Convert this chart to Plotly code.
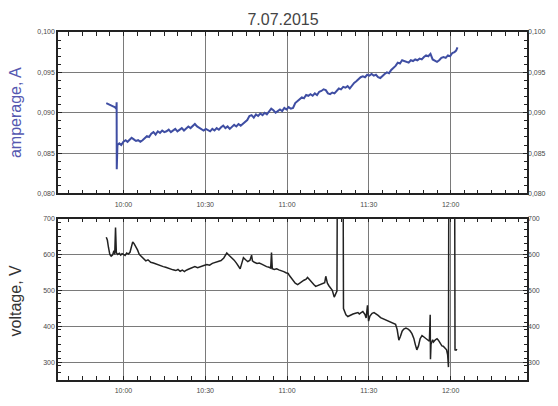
import pandas as pd
import plotly.graph_objects as go

# ---------------- data ----------------
title_text = "7.07.2015"
base_time = "2015-07-07 10:00:00"

# amperage: minutes relative to 10:00, value in A
amp_min = [-6.3, -5.8, -5.2, -4.5, -3.8, -3.2, -2.8, -2.6, -2.5, -2.45, -2.35, -2.2, -1.5, -0.8, 0.0, 0.8,
           1.5, 2.2, 3.0, 3.8, 4.6, 5.4, 6.2, 7.0, 7.8, 8.6, 9.4, 10.2, 11.0, 11.8, 12.6, 13.4,
           14.2, 15.0, 15.8, 16.6, 17.4, 18.2, 19.0, 19.8, 20.6, 21.4, 22.2, 23.0, 23.8, 24.6, 25.4, 26.2,
           27.0, 27.8, 28.6, 29.4, 30.2, 31.0, 31.8, 32.6, 33.4, 34.2, 35.0, 35.8, 36.6, 37.4, 38.2, 39.0,
           39.8, 40.6, 41.4, 42.2, 43.0, 43.8, 44.6, 45.4, 46.2, 47.0, 47.8, 48.6, 49.4, 50.2, 51.0, 51.8,
           52.6, 53.4, 54.2, 55.0, 55.8, 56.6, 57.4, 58.2, 59.0, 59.8, 60.6, 61.4, 62.2, 63.0, 63.8, 64.6,
           65.4, 66.2, 67.0, 67.8, 68.6, 69.4, 70.2, 71.0, 71.8, 72.6, 73.4, 74.2, 75.0, 75.8, 76.6, 77.4,
           78.2, 79.0, 79.8, 80.6, 81.4, 82.2, 83.0, 83.8, 84.6, 85.4, 86.2, 87.0, 87.8, 88.6, 89.4, 90.2,
           91.0, 91.8, 92.6, 93.4, 94.2, 95.0, 95.8, 96.6, 97.4, 98.2, 99.0, 99.8, 100.6, 101.4, 102.2, 103.0,
           103.8, 104.6, 105.4, 106.2, 107.0, 107.8, 108.6, 109.4, 110.2, 111.0, 111.8, 112.6, 113.4, 114.2, 115.0, 115.8,
           116.6, 117.4, 118.2, 119.0, 119.8, 120.6, 121.4, 122.0, 122.5]
amp_val = [0.0912, 0.0911, 0.0910, 0.0909, 0.0908, 0.0907, 0.0906, 0.0905, 0.0913, 0.0830, 0.0857, 0.0860, 0.0862, 0.0860, 0.0864, 0.0866,
           0.0864, 0.0867, 0.0869, 0.0867, 0.0865, 0.0866, 0.0864, 0.0866, 0.0869, 0.0871, 0.0870, 0.0874, 0.0876, 0.0873, 0.0877, 0.0875,
           0.0878, 0.0876, 0.0877, 0.0879, 0.0876, 0.0878, 0.0880, 0.0877, 0.0879, 0.0881, 0.0878, 0.0881, 0.0883, 0.0881, 0.0884, 0.0886,
           0.0883, 0.0881, 0.0880, 0.0878, 0.0880, 0.0878, 0.0877, 0.0880, 0.0878, 0.0881, 0.0879, 0.0882, 0.0884, 0.0881, 0.0883, 0.0880,
           0.0883, 0.0885, 0.0883, 0.0886, 0.0884, 0.0886, 0.0888, 0.0891, 0.0896, 0.0897, 0.0894, 0.0898, 0.0896, 0.0899, 0.0897, 0.0900,
           0.0898, 0.0902, 0.0905, 0.0903, 0.0900, 0.0902, 0.0904, 0.0902, 0.0906, 0.0904, 0.0907, 0.0905, 0.0906, 0.0912, 0.0914, 0.0917,
           0.0919, 0.0918, 0.0922, 0.0921, 0.0923, 0.0921, 0.0924, 0.0922, 0.0926, 0.0927, 0.0929, 0.0928, 0.0924, 0.0923, 0.0925, 0.0924,
           0.0927, 0.0930, 0.0929, 0.0932, 0.0931, 0.0933, 0.0930, 0.0934, 0.0937, 0.0939, 0.0942, 0.0944, 0.0945, 0.0944, 0.0947, 0.0946,
           0.0948, 0.0946, 0.0947, 0.0944, 0.0943, 0.0946, 0.0948, 0.0950, 0.0949, 0.0953, 0.0955, 0.0958, 0.0962, 0.0961, 0.0965, 0.0964,
           0.0963, 0.0962, 0.0965, 0.0964, 0.0966, 0.0965, 0.0967, 0.0966, 0.0969, 0.0971, 0.0970, 0.0973, 0.0966, 0.0964, 0.0963, 0.0965,
           0.0968, 0.0969, 0.0968, 0.0971, 0.0970, 0.0974, 0.0975, 0.0977, 0.0981]

# voltage: minutes relative to 10:00, value in V (values above 700 are off-scale spikes)
volt_min = [-6.3, -5.9, -5.5, -5.0, -4.5, -4.0, -3.5, -3.2, -2.9, -2.6, -2.1, -1.5, -1.0, -0.5, 0.0, 0.6,
            1.2, 1.8, 2.4, 3.0, 3.4, 3.9, 4.6, 5.2, 5.8, 6.5, 7.2, 8.2, 9.0, 10.0, 11.0, 11.9,
            12.8, 13.7, 14.6, 15.5, 16.4, 17.3, 18.2, 19.2, 20.0, 20.8, 21.6, 22.4, 22.8, 23.6, 24.4, 25.2,
            26.2, 27.2, 28.4, 29.5, 30.6, 31.6, 32.6, 33.7, 34.8, 35.8, 36.8, 37.9, 38.8, 39.7, 40.6, 41.5,
            42.3, 42.8, 43.4, 44.0, 44.8, 45.6, 46.4, 47.0, 47.3, 48.0, 49.0, 49.8, 50.7, 51.6, 52.5, 53.4,
            54.0, 54.3, 54.6, 55.3, 56.2, 57.0, 58.0, 58.8, 59.6, 60.4, 60.8, 61.6, 62.4, 63.0, 63.9, 64.6,
            65.4, 66.2, 67.0, 67.5, 68.2, 69.0, 69.8, 70.5, 71.4, 72.2, 73.0, 73.8, 74.2, 74.8, 75.4, 76.0,
            76.6, 77.3, 77.8, 78.3, 78.4, 80.6, 80.7, 81.2, 81.6, 82.3, 83.0, 83.4, 84.2, 85.1, 86.0, 86.5,
            87.0, 87.8, 88.6, 89.0, 89.5, 89.9, 90.4, 91.2, 91.9, 92.6, 93.4, 94.3, 95.2, 96.0, 96.6, 97.3,
            98.2, 99.0, 99.8, 100.4, 101.0, 101.6, 102.2, 102.8, 103.6, 104.4, 105.1, 105.8, 106.5, 107.0, 107.6, 108.2,
            108.8, 109.5, 110.2, 111.0, 111.6, 112.2, 112.5, 112.6, 112.8, 113.4, 113.7, 114.4, 115.0, 115.5, 116.2, 116.8,
            117.3, 118.0, 118.5, 118.9, 119.2, 119.3, 121.5, 121.6, 122.0, 122.3]
volt_val = [648, 640, 620, 600, 595, 598, 610, 600, 675, 605, 600, 603, 598, 602, 600, 597,
            604, 601, 606, 625, 635, 630, 622, 612, 600, 594, 588, 582, 585, 578, 576, 573,
            571, 568, 566, 564, 561, 559, 557, 555, 558, 553, 556, 552, 555, 558, 561, 564,
            566, 563, 567, 569, 572, 570, 575, 578, 580, 583, 590, 604, 597, 591, 584, 575,
            565, 560, 575, 591, 585, 580, 584, 598, 582, 578, 575, 576, 573, 569, 566, 564,
            562, 605, 560, 558, 560, 557, 555, 552, 549, 547, 542, 535, 526, 520, 516, 520,
            524, 528, 531, 536, 530, 522, 516, 511, 514, 517, 519, 521, 539, 520, 512, 507,
            500, 481, 490, 498, 720, 720, 449, 440, 432, 427, 430, 432, 434, 436, 438, 434,
            436, 441, 432, 423, 458, 414, 428, 436, 438, 433, 430, 424, 421, 419, 415, 414,
            411, 408, 405, 390, 361, 372, 386, 392, 395, 392, 387, 379, 366, 350, 334, 345,
            365, 374, 370, 367, 362, 358, 432, 308, 350, 362, 356, 362, 365, 361, 350, 345,
            344, 339, 334, 320, 286, 720, 720, 334, 333, 336]

x_range_min = [-24, 148]
x_tick_step_min = 30
x_minor_step_min = 5
amp_range = [0.080, 0.100]
amp_ticks = [0.080, 0.085, 0.090, 0.095, 0.100]
volt_range = [250, 700]
volt_ticks = [300, 400, 500, 600, 700]
amp_title = "amperage, A"
volt_title = "voltage, V"

# ---------------- figure ----------------
t0 = pd.Timestamp(base_time)
to_time = lambda mins: [t0 + pd.Timedelta(minutes=m) for m in mins]

amp_color = "#3f4ea3"
volt_color = "#222222"
grid_color = "#7a7a7a"
tick_font = dict(family="Liberation Sans, Arial, sans-serif", size=7, color="#4a4a4a")

fig = go.Figure()
fig.add_trace(go.Scatter(x=to_time(amp_min), y=amp_val, mode="lines",
                         line=dict(color=amp_color, width=2.0), xaxis="x", yaxis="y",
                         showlegend=False, cliponaxis=True))
fig.add_trace(go.Scatter(x=to_time(volt_min), y=volt_val, mode="lines",
                         line=dict(color=volt_color, width=1.5), xaxis="x2", yaxis="y2",
                         showlegend=False, cliponaxis=True))

xr = [t0 + pd.Timedelta(minutes=m) for m in x_range_min]

def xaxis_cfg(anchor):
    return dict(type="date", range=xr, anchor=anchor, domain=[0, 1],
                tick0=base_time, dtick=x_tick_step_min * 60000, tickformat="%H:%M",
                ticks="inside", ticklen=4, tickcolor="#222", tickwidth=1,
                minor=dict(dtick=x_minor_step_min * 60000, ticks="inside", ticklen=3,
                           tickcolor="#222", showgrid=False),
                showgrid=True, gridcolor=grid_color, gridwidth=1.3,
                showline=True, linecolor="#222", linewidth=1.5, mirror="allticks",
                tickfont=tick_font, ticklabelstandoff=3, zeroline=False, fixedrange=True)

def yaxis_cfg(domain, anchor, rng, ticks, fmt, minor_step):
    return dict(domain=domain, anchor=anchor, range=rng, tickmode="array", tickvals=ticks,
                tickformat=fmt, ticks="inside", ticklen=4, tickcolor="#222", tickwidth=1,
                minor=dict(dtick=minor_step, tick0=rng[0], ticks="inside", ticklen=3,
                           tickcolor="#222", showgrid=False),
                showgrid=True, gridcolor=grid_color, gridwidth=1.3,
                showline=True, linecolor="#222", linewidth=1.5, mirror="allticks",
                tickfont=tick_font, zeroline=False, fixedrange=True)

top_dom = [0.536, 1.0]
bot_dom = [0.0, 0.464]

fig.update_layout(
    width=558, height=406,
    margin=dict(l=58, r=28, t=32, b=12),
    paper_bgcolor="white", plot_bgcolor="white",
    separators=", ",
    font=dict(family="Liberation Sans, Arial, sans-serif"),
    xaxis=xaxis_cfg("y"),
    xaxis2=xaxis_cfg("y2"),
    yaxis=yaxis_cfg(top_dom, "x", amp_range, amp_ticks, ".3f", 0.001),
    yaxis2=yaxis_cfg(bot_dom, "x2", volt_range, volt_ticks, "d", 20),
    yaxis3=dict(overlaying="y", side="right", anchor="x", range=amp_range, tickmode="array",
                tickvals=amp_ticks, tickformat=".3f", showgrid=False, ticks="",
                showline=False, zeroline=False, tickfont=tick_font, fixedrange=True),
    yaxis4=dict(overlaying="y2", side="right", anchor="x2", range=volt_range, tickmode="array",
                tickvals=volt_ticks, tickformat="d", showgrid=False, ticks="",
                showline=False, zeroline=False, tickfont=tick_font, fixedrange=True),
    title=dict(text=title_text, x=283 / 558, xanchor="center", y=1 - 19 / 406, yanchor="middle",
               font=dict(size=16, color="#444444")),
    annotations=[
        dict(text=amp_title, textangle=-90, xref="paper", yref="paper",
             x=(15 - 58) / 472, y=1 - (116 - 32) / 362, xanchor="center", yanchor="middle",
             showarrow=False, font=dict(size=16, color="#5558b0")),
        dict(text=volt_title, textangle=-90, xref="paper", yref="paper",
             x=(15 - 58) / 472, y=1 - (312 - 32) / 362, xanchor="center", yanchor="middle",
             showarrow=False, font=dict(size=16, color="#333333")),
    ],
)
# dummy traces so the right-hand label axes render
fig.add_trace(go.Scatter(x=[xr[0]], y=[None], xaxis="x", yaxis="y3", showlegend=False, hoverinfo="skip"))
fig.add_trace(go.Scatter(x=[xr[0]], y=[None], xaxis="x2", yaxis="y4", showlegend=False, hoverinfo="skip"))

fig.write_html("out.html")
